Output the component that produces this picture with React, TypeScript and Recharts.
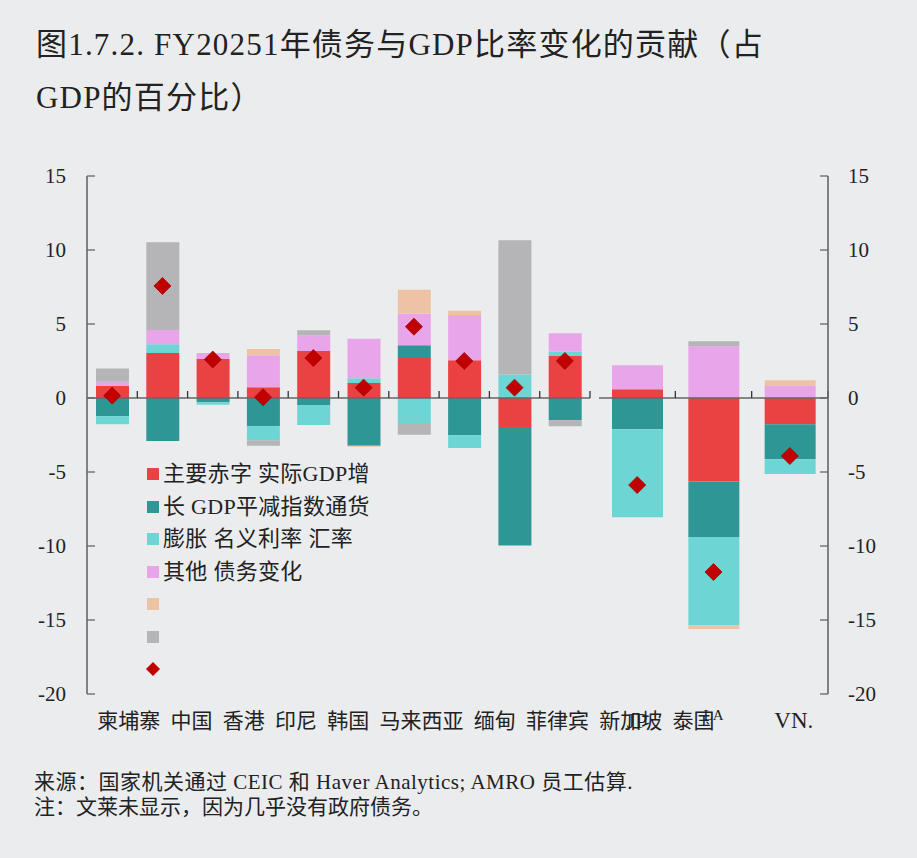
import React from "react";
import { ComposedChart, Bar, Line, XAxis, YAxis, ReferenceLine, Legend } from "recharts";

// ---- data ----
const countriesA = ["柬埔寨", "中国", "香港", "印尼", "韩国", "马来西亚", "缅甸", "菲律宾", "新加坡", "泰国"];
const countriesB = ["JP", "LA", "VN."];

const primaryA = [0.81, 3.04, 2.64, 0.72, 3.18, 1.01, 2.7, 2.55, -1.96, 2.84];
const growthA = [-1.24, -2.9, -0.29, -1.91, -0.47, -3.22, 0.86, -2.52, -8.01, -1.51];
const deflatorA = [-0.54, 0.59, -0.16, -0.95, -1.35, 0.32, -1.69, -0.86, 1.58, 0.29];
const interestA = [0.29, 0.97, 0.4, 2.17, 1.06, 2.68, 2.14, 3.06, 0, 1.24];
const fxA = [0, 0, 0, 0.42, 0, -0.08, 1.62, 0.29, 0, 0];
const otherA = [0.9, 5.92, 0, -0.36, 0.33, 0, -0.79, 0, 9.08, -0.4];
const totalA = [0.16, 7.57, 2.6, 0.05, 2.7, 0.7, 4.82, 2.5, 0.7, 2.5];

const primaryB = [0.59, -5.65, -1.78];
const growthB = [-2.11, -3.74, -2.36];
const deflatorB = [-5.95, -5.97, -0.99];
const interestB = [1.62, 3.49, 0.81];
const fxB = [0, -0.24, 0.39];
const otherB = [0, 0.34, 0];
const totalB = [-5.88, -11.76, -3.92];

const yTicks = [-20, -15, -10, -5, 0, 5, 10, 15];
const seriesKeys = ["primary", "growth", "deflator", "interest", "fx", "other", "total"];
const legendLabels = ["主要赤字 实际GDP增", "长 GDP平减指数通货", "膨胀 名义利率 汇率", "其他 债务变化", "", "", ""];
const titleLines = ["图1.7.2. FY20251年债务与GDP比率变化的贡献（占", "GDP的百分比）"];
const noteLines = ["来源：国家机关通过 CEIC 和 Haver Analytics; AMRO 员工估算.", "注：文莱未显示，因为几乎没有政府债务。"];

// ---- styles ----
const COLORS = ["#EA4243", "#2E9795", "#6DD6D5", "#E9A5EA", "#EEC3A3", "#B5B5B7", "#C00000"];
const BG = "#EBECEE";
const FONT = "'Liberation Serif', 'Noto Sans CJK SC', serif";
const TEXT = "#222";

const buildRows = (names: string[], p: number[], g: number[], d: number[], r: number[], f: number[], o: number[], t: number[]) =>
  names.map((name, i) => ({
    name,
    primary: p[i],
    growth: g[i],
    deflator: d[i],
    interest: r[i],
    fx: f[i],
    other: o[i],
    total: t[i],
  }));

const rowsA = buildRows(countriesA, primaryA, growthA, deflatorA, interestA, fxA, otherA, totalA);
const rowsB = buildRows(countriesB, primaryB, growthB, deflatorB, interestB, fxB, otherB, totalB);

const diamondPath = (cx: number, cy: number, r: number) =>
  `M${cx},${cy - r}L${cx + r},${cy}L${cx},${cy + r}L${cx - r},${cy}Z`;

const Diamond = (props: any) => {
  const { cx, cy, index } = props;
  if (cx == null || cy == null || isNaN(cx) || isNaN(cy)) return <g key={index} />;
  return <path key={index} d={diamondPath(cx, cy, 8.5)} fill={COLORS[6]} stroke="#A80000" strokeWidth={0.8} />;
};

const makeZeroLine = (n: number, from: number, to: number) => (props: any) => {
  const { x1, y1, x2, y2 } = props;
  const step = (x2 - x1) / n;
  const marks = [];
  for (let i = from; i <= to; i++) {
    const x = x1 + i * step;
    marks.push(<line key={i} x1={x} x2={x} y1={y1} y2={y1 - 7} stroke="#333" strokeWidth={1.3} />);
  }
  return (
    <g>
      <line x1={x1} y1={y1} x2={x2} y2={y2} stroke="#666" strokeWidth={1.6} />
      {marks}
    </g>
  );
};

const TickA = (props: any) => {
  const { x, y, payload } = props;
  if (!payload || payload.value !== countriesA[0]) return <g />;
  return (
    <text x={x - 15} y={y + 26} textAnchor="start" fontSize={21} fill={TEXT} fontFamily={FONT} style={{ wordSpacing: "5px" }}>
      {countriesA.join(" ")}
    </text>
  );
};

const TickB = (props: any) => {
  const { x, y, payload } = props;
  const small = payload && payload.value === countriesB[1];
  const last = payload && payload.value === countriesB[2];
  return (
    <text
      x={x + (last ? 4 : 0)}
      y={small ? y + 18 : y + 26}
      textAnchor="middle"
      fontSize={small ? 15 : last ? 23 : 22}
      fill={TEXT}
      fontFamily={FONT}
    >
      {payload ? payload.value : ""}
    </text>
  );
};

const renderLegend = () => (
  <div style={{ fontFamily: FONT, color: TEXT }}>
    {seriesKeys.map((k, i) => (
      <div key={k} style={{ height: 32.5, display: "flex", alignItems: "center" }}>
        {k === "total" ? (
          <svg width={16} height={16} style={{ marginLeft: -2 }}>
            <path d={diamondPath(8, 8, 7)} fill={COLORS[6]} />
          </svg>
        ) : (
          <div style={{ width: 12, height: 12, background: COLORS[i] }} />
        )}
        <span style={{ marginLeft: 4, fontSize: 22, whiteSpace: "nowrap", lineHeight: "22px", letterSpacing: "0.3px" }}>
          {legendLabels[i]}
        </span>
      </div>
    ))}
  </div>
);

const yTickStyle = { fontSize: 21, fill: TEXT, fontFamily: FONT };
const axisLineStyle = { stroke: "#666", strokeWidth: 1.6 };

const series = (ids: string[]) =>
  ids.slice(0, 6).map((k, i) => (
    <Bar key={k} dataKey={k} name={legendLabels[i]} stackId="s" fill={COLORS[i]} isAnimationActive={false} />
  ));

export default function App() {
  return (
    <div style={{ width: 917, height: 858, background: BG, position: "relative", overflow: "hidden", fontFamily: FONT }}>
      <style>{"body{margin:0;}"}</style>
      <div
        style={{
          position: "absolute",
          left: 36,
          top: 18,
          fontSize: 31,
          lineHeight: "53px",
          letterSpacing: "1.2px",
          color: TEXT,
          whiteSpace: "nowrap",
        }}
      >
        {titleLines.map((t, i) => (
          <div key={i}>{t}</div>
        ))}
      </div>

      <div style={{ position: "absolute", left: 0, top: 0 }}>
        <ComposedChart
          width={917}
          height={760}
          data={rowsA}
          stackOffset="sign"
          barSize={33}
          margin={{ top: 176, right: 327, bottom: 36, left: 0 }}
        >
          <XAxis dataKey="name" axisLine={false} tickLine={false} interval={0} tick={<TickA />} height={30} />
          <YAxis
            domain={[-20, 15]}
            ticks={yTicks}
            allowDataOverflow
            width={87}
            tickSize={-8}
            tickMargin={29}
            axisLine={axisLineStyle}
            tickLine={{ stroke: "#666", strokeWidth: 1.3 }}
            tick={yTickStyle}
          />
          {series(seriesKeys)}
          <ReferenceLine y={0} shape={makeZeroLine(countriesA.length, 1, countriesA.length)} />
          <Line dataKey="total" name={legendLabels[6]} stroke="none" dot={<Diamond />} activeDot={false} legendType="diamond" isAnimationActive={false} />
          <Legend
            layout="vertical"
            align="center"
            verticalAlign="middle"
            content={renderLegend}
            wrapperStyle={{ left: 147, top: 458, width: 280, height: 230 }}
          />
        </ComposedChart>
      </div>

      <div style={{ position: "absolute", left: 0, top: 0 }}>
        <ComposedChart
          width={917}
          height={760}
          data={rowsB}
          stackOffset="sign"
          barSize={51}
          margin={{ top: 176, right: 0, bottom: 36, left: 599 }}
        >
          <XAxis dataKey="name" axisLine={false} tickLine={false} interval={0} tick={<TickB />} height={30} />
          <YAxis
            orientation="right"
            domain={[-20, 15]}
            ticks={yTicks}
            allowDataOverflow
            width={89}
            tickSize={-8}
            tickMargin={28}
            axisLine={axisLineStyle}
            tickLine={{ stroke: "#666", strokeWidth: 1.3 }}
            tick={yTickStyle}
          />
          {series(seriesKeys)}
          <ReferenceLine y={0} shape={makeZeroLine(countriesB.length, 0, countriesB.length - 1)} />
          <Line dataKey="total" name={legendLabels[6]} stroke="none" dot={<Diamond />} activeDot={false} isAnimationActive={false} />
        </ComposedChart>
      </div>

      <div style={{ position: "absolute", left: 34, top: 770, fontSize: 21, lineHeight: "25px", color: TEXT, whiteSpace: "nowrap" }}>
        {noteLines.map((t, i) => (
          <div key={i} style={{ letterSpacing: i === 0 ? "0.5px" : "0px" }}>
            {t}
          </div>
        ))}
      </div>
    </div>
  );
}
